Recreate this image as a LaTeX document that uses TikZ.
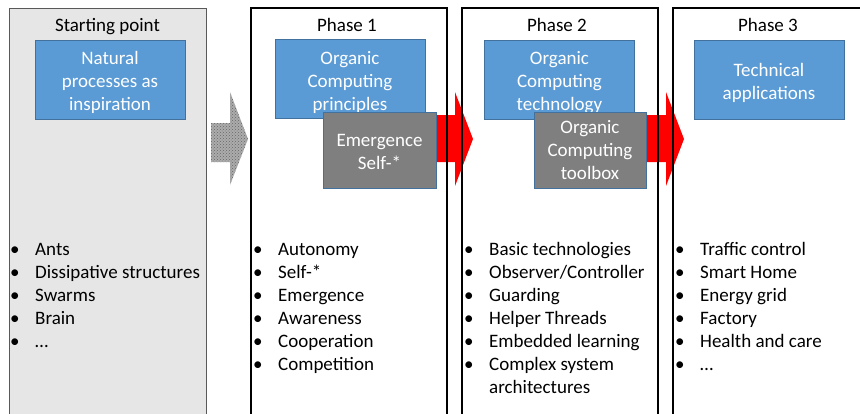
\documentclass[tikz,border=0pt]{standalone}
\usepackage{fontspec}
\setmainfont{Carlito}
\usetikzlibrary{patterns}
\definecolor{bluefill}{HTML}{5B9BD5}
\definecolor{blueline}{HTML}{41719C}
\definecolor{grayfill}{HTML}{7F7F7F}
\definecolor{panelgray}{HTML}{E7E6E6}
\definecolor{panelline}{HTML}{595959}
\definecolor{arrowred}{HTML}{FF0000}
\newcommand{\bul}{\makebox[25pt][l]{\textbullet}}
\begin{document}
\begin{tikzpicture}[x=1pt,y=-1pt,
  txt/.style={font=\fontsize{19}{23}\selectfont},
  panel/.style={inner sep=0pt, outer sep=0pt, anchor=north west, minimum height=420pt},
  bluebox/.style={draw=blueline, line width=0.8pt, fill=bluefill, inner sep=0pt, minimum width=150pt, minimum height=79pt},
  graybox/.style={draw=blueline, line width=0.8pt, fill=grayfill, inner sep=0pt, minimum width=113pt, minimum height=76pt},
  boxtext/.style={txt, text=white, align=center, inner sep=0pt},
  title/.style={txt, anchor=base, inner sep=0pt},
  blist/.style={txt, anchor=base west, inner sep=0pt},
  redarrow/.style={fill=arrowred},
  patarrow/.style={preaction={fill=gray!65}, pattern=crosshatch dots, pattern color=black!60},
  phaseline/.style={draw=black, line width=1.2pt},
  startline/.style={draw=panelline, line width=1pt}
]
\clip (0,0) rectangle (860,413);
% panel fills
\node[panel, fill=panelgray, minimum width=197pt] (p0) at (9,8) {};
\node[panel, fill=white, minimum width=196pt] (p1) at (251,8) {};
\node[panel, fill=white, minimum width=196pt] (p2) at (462,8) {};
\node[panel, fill=white, minimum width=196pt] (p3) at (673,8) {};
% blue boxes
\node[bluebox] (b0) at (110,79.5) {};
\node[boxtext, yshift=-3pt] (b0t) at (b0.center) {Natural\\processes as\\inspiration};
\node[bluebox] (b1) at (350,79) {};
\node[boxtext, yshift=-3pt] (b1t) at (b1.center) {Organic\\Computing\\principles};
\node[bluebox] (b2) at (559.5,80) {};
\node[boxtext, yshift=-3pt] (b2t) at (b2.center) {Organic\\Computing\\technology};
\node[bluebox] (b3) at (769,80) {};
\node[boxtext, yshift=-3pt] (b3t) at (b3.center) {Technical\\applications};
% block arrows
\fill[patarrow] (211,123) -- (230,123) -- (230,92) -- (248,139) -- (230,185) -- (230,162) -- (211,162) -- cycle;
\fill[redarrow] (425,115) -- (455,115) -- (455,92) -- (473,139) -- (455,186) -- (455,162) -- (425,162) -- cycle;
\fill[redarrow] (635,115) -- (666,115) -- (666,92) -- (684,139) -- (666,186) -- (666,162) -- (635,162) -- cycle;
% panel borders
\draw[startline] (p0.north west) rectangle (p0.south east);
\draw[phaseline] (p1.north west) rectangle (p1.south east);
\draw[phaseline] (p2.north west) rectangle (p2.south east);
\draw[phaseline] (p3.north west) rectangle (p3.south east);
% gray boxes
\node[graybox] (g1) at (379.5,150) {};
\node[boxtext, yshift=-1.5pt] (g1t) at (g1.center) {Emergence\\Self-*};
\node[graybox, minimum width=112pt] (g2) at (590,150) {};
\node[boxtext, yshift=-0.5pt] (g2t) at (g2.center) {Organic\\Computing\\toolbox};
% titles
\node[title] (t0) at (107.5,31) {Starting point};
\node[title] (t1) at (347,31) {Phase 1};
\node[title] (t2) at (557,31) {Phase 2};
\node[title] (t3) at (768,31) {Phase 3};
% lists
\node[blist] (l0) at (10,255) {\begin{tabular}[t]{@{}l@{}}
\bul Ants\\ \bul Dissipative structures\\ \bul Swarms\\ \bul Brain\\ \bul \dots
\end{tabular}};
\node[blist] (l1) at (253,255) {\begin{tabular}[t]{@{}l@{}}
\bul Autonomy\\ \bul Self-*\\ \bul Emergence\\ \bul Awareness\\ \bul Cooperation\\ \bul Competition
\end{tabular}};
\node[blist] (l2) at (464,255) {\begin{tabular}[t]{@{}l@{}}
\bul Basic technologies\\ \bul Observer/Controller\\ \bul Guarding\\ \bul Helper Threads\\ \bul Embedded learning\\ \bul Complex system\\ \hspace*{25pt}architectures
\end{tabular}};
\node[blist] (l3) at (675,255) {\begin{tabular}[t]{@{}l@{}}
\bul Traffic control\\ \bul Smart Home\\ \bul Energy grid\\ \bul Factory\\ \bul Health and care\\ \bul \dots
\end{tabular}};
\end{tikzpicture}
\end{document}
